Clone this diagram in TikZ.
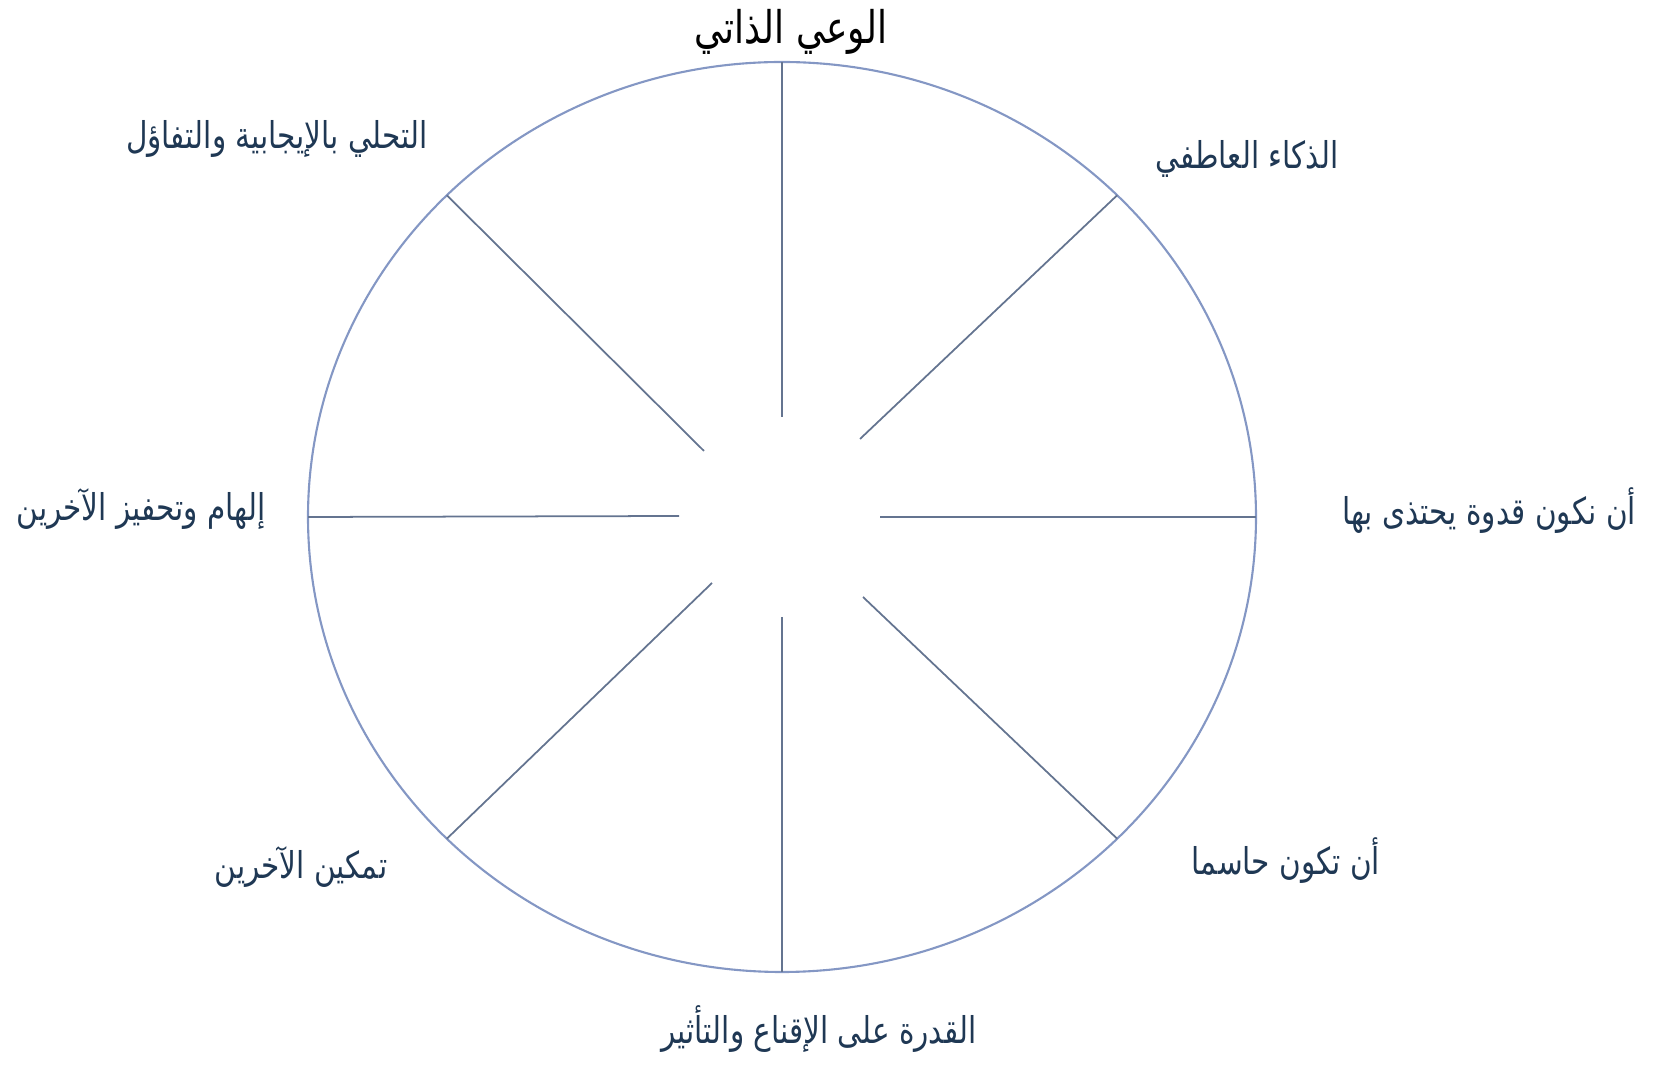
\documentclass[tikz,border=0pt]{standalone}
\usepackage{fontspec}
\usepackage{tikz}
\usetikzlibrary{positioning}
\newfontfamily\arabicfont[Script=Arabic, FakeStretch=0.8]{DejaVu Sans}
\TeXXeTstate=1
\definecolor{wheelblue}{RGB}{132,151,196}
\definecolor{spokegray}{RGB}{100,116,144}
\definecolor{labelnavy}{RGB}{31,56,84}

\begin{document}
\begin{tikzpicture}[
    wheel/.style={draw=wheelblue, line width=0.6pt},
    spoke/.style={draw=spokegray, line width=0.5pt},
    skill/.style={font=\arabicfont\fontsize{10.5}{12}\selectfont, text=labelnavy, inner sep=0pt},
    title/.style={font=\arabicfont\fontsize{12.8}{15}\selectfont, text=black, inner sep=0pt}
]
\useasboundingbox (0,0) rectangle (16.62,10.65);

% Wheel
\coordinate (c) at (7.82,5.48);
\draw[wheel] (c) ellipse [x radius=4.74, y radius=4.55];

% Spoke ends on the rim
\coordinate (o0) at ([shift={(0:4.74 and 4.55)}]c);
\coordinate (o1) at ([shift={(45:4.74 and 4.55)}]c);
\coordinate (o2) at ([shift={(90:4.74 and 4.55)}]c);
\coordinate (o3) at ([shift={(135:4.74 and 4.55)}]c);
\coordinate (o4) at ([shift={(180:4.74 and 4.55)}]c);
\coordinate (o5) at ([shift={(225:4.74 and 4.55)}]c);
\coordinate (o6) at ([shift={(270:4.74 and 4.55)}]c);
\coordinate (o7) at ([shift={(315:4.74 and 4.55)}]c);

% Spoke ends near the hub
\coordinate (i0) at (8.80,5.48);
\coordinate (i1) at (8.60,6.26);
\coordinate (i2) at (7.82,6.48);
\coordinate (i3) at (7.04,6.14);
\coordinate (i4) at (6.79,5.49);
\coordinate (i5) at (7.12,4.82);
\coordinate (i6) at (7.82,4.48);
\coordinate (i7) at (8.63,4.68);

% Spokes
\draw[spoke] (i0) -- (o0);
\draw[spoke] (i1) -- (o1);
\draw[spoke] (i2) -- (o2);
\draw[spoke] (i3) -- (o3);
\draw[spoke] (i4) -- (o4);
\draw[spoke] (i5) -- (o5);
\draw[spoke] (i6) -- (o6);
\draw[spoke] (i7) -- (o7);

% Labels
\node[title] (selfaware) at (7.91,10.33) {\beginR الوعي الذاتي\endR};
\node[skill] (emotional) at (12.47,9.06) {\beginR الذكاء العاطفي\endR};
\node[skill] (positive) at (2.77,9.26) {\beginR التحلي بالإيجابية والتفاؤل\endR};
\node[skill] (rolemodel) at (14.89,5.54) {\beginR أن نكون قدوة يحتذى بها\endR};
\node[skill] (inspire) at (1.41,5.56) {\beginR إلهام وتحفيز الآخرين\endR};
\node[skill] (decisive) at (12.86,2.04) {\beginR أن تكون حاسما\endR};
\node[skill] (empower) at (3.01,1.98) {\beginR تمكين الآخرين\endR};
\node[skill] (persuade) at (8.19,0.36) {\beginR القدرة على الإقناع والتأثير\endR};

\end{tikzpicture}
\end{document}
